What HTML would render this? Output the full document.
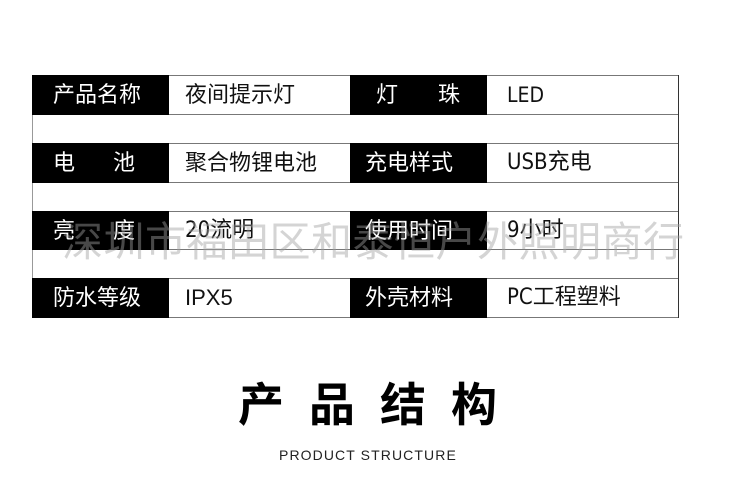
<!DOCTYPE html>
<html><head><meta charset="utf-8"><style>
body{margin:0;width:750px;height:480px;background:#fff;position:relative;overflow:hidden;font-family:"Liberation Sans","Noto Sans CJK SC",sans-serif}
.c{position:absolute;font-size:22px;line-height:1;display:flex;align-items:center;box-sizing:border-box}
.b{background:#000;color:#fff}
.w{background:#fff;color:#111;border-top:1px solid #777;border-bottom:1px solid #777}
.n{font-family:'DejaVu Sans Condensed','Liberation Sans Narrow','Liberation Sans','Noto Sans CJK SC',sans-serif}
</style></head><body>
<div style="position:absolute;left:32px;top:75px;width:647px;height:243px;border-right:1px solid #333;border-left:1px solid #999;box-sizing:border-box"></div>
<!-- row1 -->
<div class="c b" style="left:32px;top:75px;width:137px;height:40px;padding-left:21px">产品名称</div>
<div class="c w" style="left:169px;top:75px;width:181px;height:40px;padding-left:16px">夜间提示灯</div>
<div class="c b" style="left:350px;top:75px;width:137px;height:40px;padding-left:26px">灯<span style="display:inline-block;width:40px"></span>珠</div>
<div class="c w n" style="left:487px;top:75px;width:191px;height:40px;padding-left:20px;font-size:21px">LED</div>
<!-- row2 -->
<div class="c b" style="left:32px;top:143px;width:137px;height:40px;padding-left:21px">电<span style="display:inline-block;width:38px"></span>池</div>
<div class="c w" style="left:169px;top:143px;width:181px;height:40px;padding-left:16px">聚合物锂电池</div>
<div class="c b" style="left:350px;top:143px;width:137px;height:40px;padding-left:15px">充电样式</div>
<div class="c w n" style="left:487px;top:143px;width:191px;height:40px;padding-left:20px">USB充电</div>
<!-- row3 -->
<div class="c b" style="left:32px;top:211px;width:137px;height:39px;padding-left:21px">亮<span style="display:inline-block;width:38px"></span>度</div>
<div class="c w n" style="left:169px;top:211px;width:181px;height:39px;padding-left:16px">20流明</div>
<div class="c b" style="left:350px;top:211px;width:137px;height:39px;padding-left:15px">使用时间</div>
<div class="c w n" style="left:487px;top:211px;width:191px;height:39px;padding-left:20px">9小时</div>
<!-- row4 -->
<div class="c b" style="left:32px;top:278px;width:137px;height:40px;padding-left:21px">防水等级</div>
<div class="c w" style="left:169px;top:278px;width:181px;height:40px;padding-left:16px">IPX5</div>
<div class="c b" style="left:350px;top:278px;width:137px;height:40px;padding-left:15px">外壳材料</div>
<div class="c w n" style="left:487px;top:278px;width:191px;height:40px;padding-left:20px">PC工程塑料</div>
<div style="position:absolute;left:62px;top:222px;font-size:41px;color:rgba(160,160,160,0.45);white-space:nowrap;letter-spacing:0.5px;line-height:1">深圳市福田区和泰恒户外照明商行</div>
<div style="position:absolute;left:238px;top:382px;font-size:46px;font-weight:bold;letter-spacing:25px;color:#000;line-height:1;white-space:nowrap">产品结构</div>
<div style="position:absolute;left:279px;top:447px;font-size:14px;color:#222;letter-spacing:1.1px;white-space:nowrap">PRODUCT STRUCTURE</div>
</body></html>
